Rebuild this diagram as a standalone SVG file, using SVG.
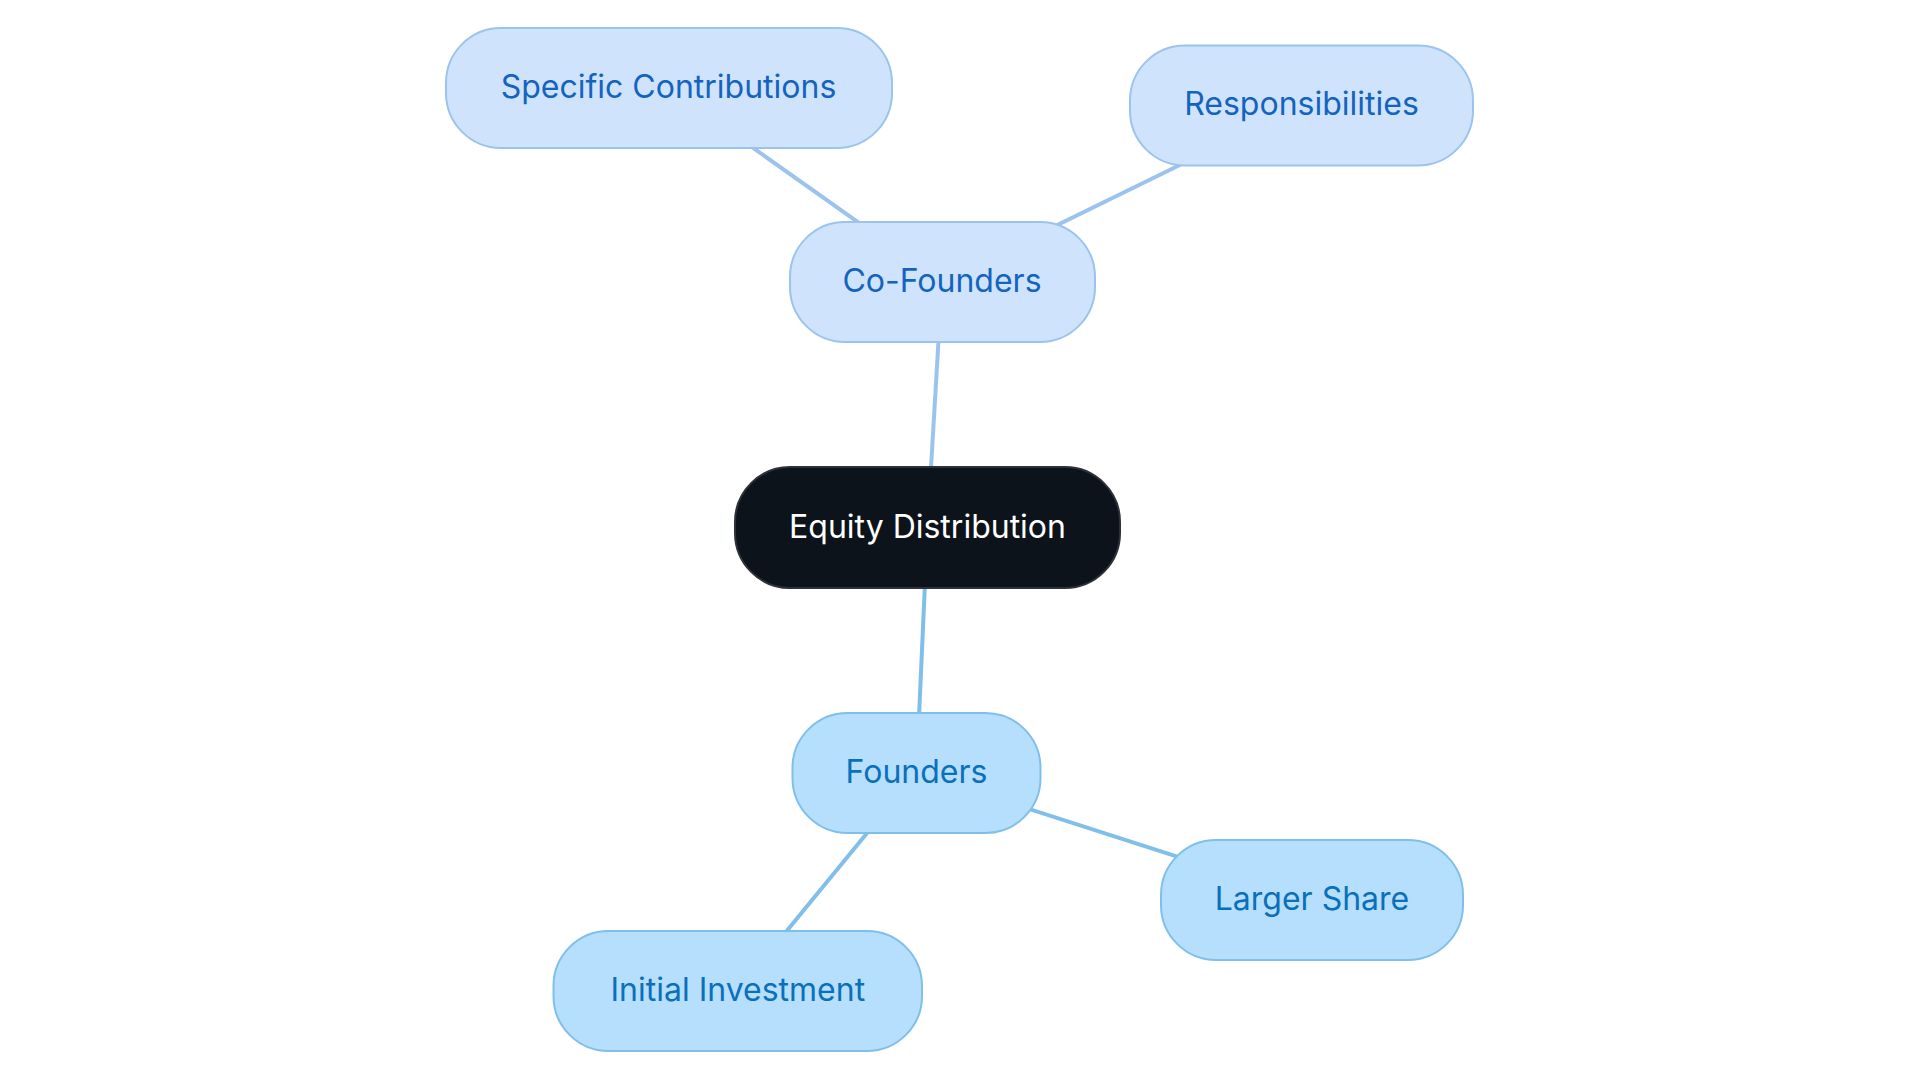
<svg xmlns="http://www.w3.org/2000/svg" width="1920" height="1083" viewBox="0 0 1920 1083">
<style>
text{font-family:"Inter","Noto Sans","Liberation Sans",sans-serif;font-size:32px;text-anchor:middle}
.c rect{fill:#CFE4FC;stroke:#9CC3EE;stroke-width:2}
.c text{fill:#1463BF}
.f rect{fill:#B5DFFD;stroke:#80BFEA;stroke-width:2}
.f text{fill:#0B6FBA}
.root rect{fill:#0C131A;stroke:#2D3239;stroke-width:2}
.root text{fill:#FFFFFF}
.lc{stroke:#9CC3EE;stroke-width:4;fill:none}
.lf{stroke:#80BFEA;stroke-width:4;fill:none}
</style>
<rect width="1920" height="1083" fill="#FFFFFF"/>
<g id="connectors">
<line class="lc" x1="927.5" y1="527" x2="942" y2="281.6"/>
<line class="lc" x1="942" y1="281.6" x2="668.5" y2="88"/>
<line class="lc" x1="942" y1="281.6" x2="1301.7" y2="105.3"/>
<line class="lf" x1="927.5" y1="527" x2="916.5" y2="772.7"/>
<line class="lf" x1="916.5" y1="772.7" x2="1312" y2="900"/>
<line class="lf" x1="916.5" y1="772.7" x2="737.8" y2="990.6"/>
</g>
<g id="node-equity" class="root">
<rect x="735" y="467" width="385" height="121" rx="55"/>
<text x="927.5" y="537.5">Equity Distribution</text>
</g>
<g id="node-cofounders" class="c">
<rect x="790" y="222" width="305" height="120" rx="55"/>
<text x="942" y="291.5">Co-Founders</text>
</g>
<g id="node-specific" class="c">
<rect x="446" y="28" width="446" height="120" rx="55"/>
<text x="668.5" y="97.5">Specific Contributions</text>
</g>
<g id="node-responsibilities" class="c">
<rect x="1130" y="45.5" width="343" height="120" rx="55"/>
<text x="1301.5" y="115">Responsibilities</text>
</g>
<g id="node-founders" class="f">
<rect x="792.5" y="713" width="248" height="120" rx="55"/>
<text x="916.5" y="782.5">Founders</text>
</g>
<g id="node-larger" class="f">
<rect x="1161" y="840" width="302" height="120" rx="55"/>
<text x="1312" y="909.5">Larger Share</text>
</g>
<g id="node-initial" class="f">
<rect x="553.5" y="931" width="368.5" height="120" rx="55"/>
<text x="737.8" y="1000.5">Initial Investment</text>
</g>
</svg>
